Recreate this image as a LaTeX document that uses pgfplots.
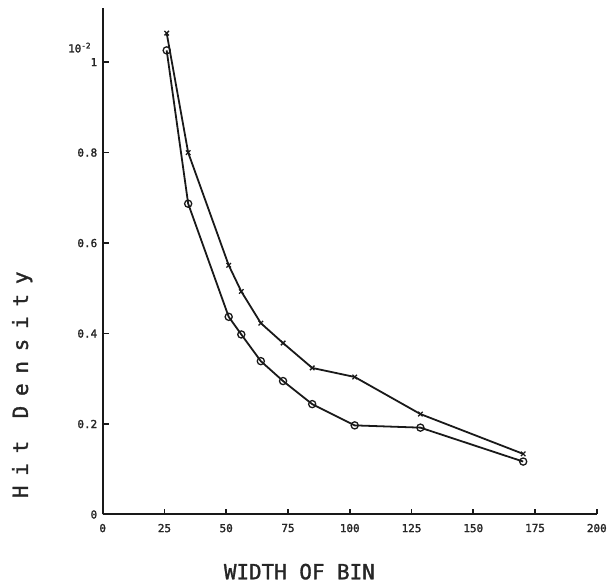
\documentclass[border=0pt]{standalone}
\usepackage{pgfplots}
\pgfplotsset{compat=1.18}
\usepackage{fontspec}
\newfontfamily\tickfont{DejaVu Sans Mono}[FakeBold=2]
\newfontfamily\xlabfont{DejaVu Sans Mono}[FakeBold=1.5]
\newfontfamily\ylabfont{DejaVu Sans Mono}[LetterSpace=47,FakeBold=1.5]
\begin{document}
\begin{tikzpicture}
\begin{axis}[
  scale only axis,
  width=497pt, height=509.6pt,
  xmin=0, xmax=200, ymin=0, ymax=1.12,
  axis lines=left,
  axis line style={-, line width=2pt, black!90},
  tick align=inside,
  major tick length=6pt,
  tick style={line width=1.6pt, black!90},
  xtick={0,25,50,75,100,125,150,175,200},
  ytick={0,0.2,0.4,0.6,0.8,1},
  yticklabels={0,0.2,0.4,0.6,0.8,1},
  /pgf/number format/assume math mode=true,
  ticklabel style={font=\tickfont\fontsize{11}{12}\selectfont, text=black!85},
  xticklabel style={yshift=-6pt},
  yticklabel style={xshift=-2pt},
  xlabel={WIDTH OF BIN},
  ylabel={Hit Density},
  xlabel style={font=\xlabfont\fontsize{21}{24}\selectfont, text=black!85, at={(axis description cs:0.398,0)}, anchor=center, yshift=-57.5pt},
  ylabel style={font=\ylabfont\fontsize{21}{24}\selectfont, text=black!85, at={(axis description cs:-0.163,0.256)}, anchor=center},
  clip=false,
]
\addplot[black!90, line width=1.8pt, mark=x, mark size=3.2pt, mark options={line width=1.3pt}] coordinates {
  (25.9,1.064) (34.6,0.800) (51.0,0.551) (56.1,0.493) (64.0,0.423) (73.0,0.379) (84.8,0.324) (102.0,0.304) (128.6,0.222) (170.2,0.134)
};
\addplot[black!90, line width=1.8pt, mark=o, mark size=3.6pt, mark options={line width=1.3pt}] coordinates {
  (25.9,1.026) (34.6,0.687) (51.0,0.437) (56.1,0.398) (64.0,0.339) (73.0,0.295) (84.8,0.244) (102.0,0.197) (128.6,0.192) (170.2,0.117)
};
\node[font=\tickfont\fontsize{11}{12}\selectfont, text=black!85, anchor=west] at (axis cs:-15.4,1.032) {10\textsuperscript{-2}};
\coordinate (O) at (axis cs:0,0);
\end{axis}
\path (O) ++(-103.3pt,-64.5pt) rectangle ++(610pt,582pt);
\end{tikzpicture}
\end{document}
